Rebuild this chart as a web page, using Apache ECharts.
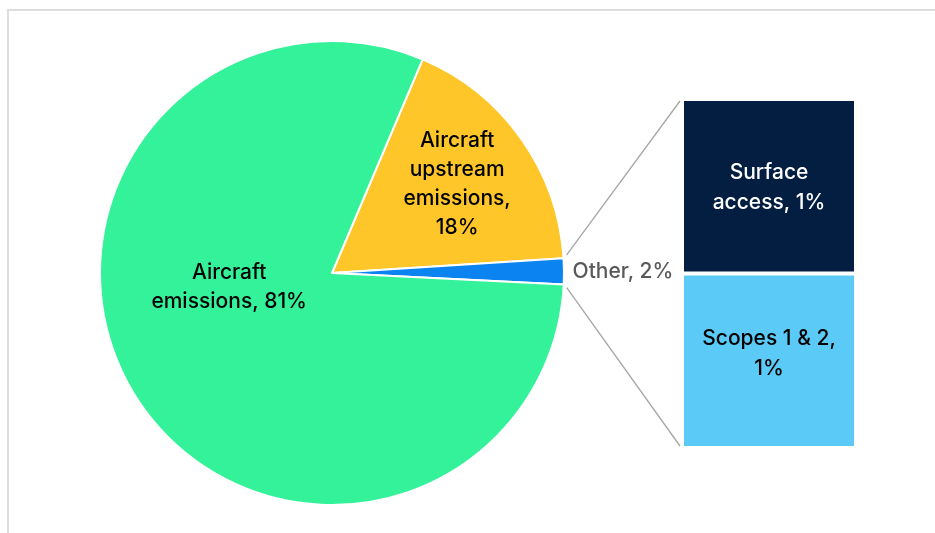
<!DOCTYPE html>
<html>
<head>
<meta charset="utf-8">
<script src="https://cdn.jsdelivr.net/npm/echarts@6/dist/echarts.min.js"></script>
<style>
  html, body { margin: 0; padding: 0; background: #fff; }
  #chart { width: 935px; height: 533px; }
</style>
</head>
<body>
<div id="chart"></div>
<script>
// pie slices, clockwise from the top-right edge
var pieNames = ['Aircraft upstream emissions', 'Other', 'Aircraft emissions'];
var pieValues = [17.6, 1.8, 80.6];
var pieLabels = ['Aircraft\nupstream\nemissions,\n18%', 'Other, 2%', 'Aircraft\nemissions, 81%'];
var pieColors = ['#FFC629', '#0B84F2', '#33F29A'];

// breakdown of "Other" (bottom to top)
var barNames = ['Scopes 1 & 2', 'Surface access'];
var barValues = [0.9, 0.9];
var barLabels = ['Scopes 1 & 2,\n1%', 'Surface\naccess, 1%'];
var barColors = ['#5CCAF6', '#041E42'];

var font = 'Inter';
var fontSize = 21;
var cx = 332, cy = 273, R = 232;
var startAngle = 67;

var myChart = echarts.init(document.getElementById('chart'));

var labelOffsets = [[28, -20], [172, 0], [-2, -49]];
var labelColors = ['#000', '#595959', '#000'];

var pieData = pieValues.map(function (v, i) {
  return {
    name: pieNames[i],
    value: v,
    itemStyle: { color: pieColors[i] },
    label: {
      formatter: pieLabels[i],
      offset: labelOffsets[i],
      color: labelColors[i]
    }
  };
});

var barOffsets = [[0, -7], [0, 1]];
var barSeries = barValues.map(function (v, i) {
  return {
    name: barNames[i],
    type: 'bar',
    stack: 'other',
    barWidth: '100%',
    data: [v],
    itemStyle: { color: barColors[i], borderColor: '#fff', borderWidth: 2 },
    label: {
      show: true,
      position: 'inside',
      formatter: barLabels[i],
      offset: barOffsets[i],
      color: i === 1 ? '#fff' : '#000',
      fontFamily: font,
      fontWeight: 500,
      fontSize: fontSize,
      lineHeight: 30
    },
    silent: true
  };
});

var gridLeft = 682, gridTop = 99, gridW = 174, gridH = 349;
var total = barValues.reduce(function (a, b) { return a + b; }, 0);

var option = {
  animation: false,
  backgroundColor: '#fff',
  grid: { left: gridLeft, top: gridTop, width: gridW, height: gridH },
  xAxis: { type: 'category', data: ['Other'], show: false },
  yAxis: { type: 'value', min: 0, max: total, show: false },
  series: [{
    type: 'pie',
    center: [cx, cy],
    radius: R,
    startAngle: startAngle,
    clockwise: true,
    data: pieData,
    itemStyle: { borderColor: '#fff', borderWidth: 2 },
    label: {
      show: true,
      position: 'inside',
      fontFamily: font,
      fontWeight: 500,
      fontSize: fontSize,
      lineHeight: 29,
      align: 'center'
    },
    labelLine: { show: false },
    silent: true
  }].concat(barSeries)
};

myChart.setOption(option);

// connector lines from the "Other" slice edges to the bar corners
var otherStart = startAngle - pieValues[0] / 100 * 360;
var otherEnd = otherStart - pieValues[1] / 100 * 360;
function edgePoint(deg) {
  var a = deg * Math.PI / 180;
  return [cx + (R + 3) * Math.cos(a), cy - (R + 3) * Math.sin(a)];
}
var p1 = edgePoint(otherStart);
var p2 = edgePoint(otherEnd);
var topCorner = myChart.convertToPixel({ gridIndex: 0 }, [0, total]);
var botCorner = myChart.convertToPixel({ gridIndex: 0 }, [0, 0]);
var barLeftX = gridLeft - 2;

myChart.setOption({
  graphic: [{
    type: 'rect',
    shape: { x: 8, y: 10, width: 1200, height: 800 },
    style: { fill: 'none', stroke: '#dddddd', lineWidth: 2 },
    silent: true,
    z: -1
  }, {
    type: 'line',
    shape: { x1: p1[0], y1: p1[1] - 3, x2: barLeftX, y2: topCorner[1] + 2 },
    style: { stroke: '#a6a6a6', lineWidth: 1.3 },
    silent: true
  }, {
    type: 'line',
    shape: { x1: p2[0], y1: p2[1] + 3, x2: barLeftX, y2: botCorner[1] - 2 },
    style: { stroke: '#a6a6a6', lineWidth: 1.3 },
    silent: true
  }]
});
</script>
</body>
</html>
